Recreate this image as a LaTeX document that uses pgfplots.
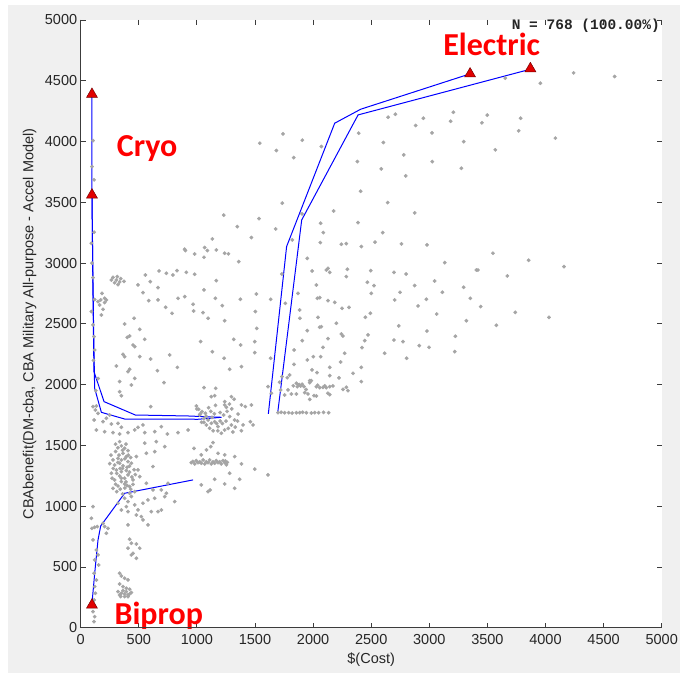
\documentclass[border=0pt]{standalone}
\usepackage{pgfplots}
\pgfplotsset{compat=1.18}
\usepackage{fontspec}
\setmainfont{Liberation Sans}
\newfontfamily\calib{Carlito}
\newfontfamily\monof{Liberation Mono}
\definecolor{ptgray}{RGB}{165,165,165}
\definecolor{bgray}{RGB}{240,240,240}
\definecolor{axgray}{RGB}{60,60,60}
\definecolor{trired}{RGB}{225,0,0}
\definecolor{triedge}{RGB}{120,0,0}
\begin{document}
\begin{tikzpicture}
\fill[white] (-80.7pt,-45.3pt) rectangle (599.3pt,627.7pt);
\fill[bgray] (-72.7pt,-45.3pt) rectangle (599.3pt,622.7pt);
\begin{axis}[
  scale only axis, width=581pt, height=607.7pt,
  xmin=0, xmax=5000, ymin=0, ymax=5000,
  xtick={0,500,...,5000}, ytick={0,500,...,5000},
  tick pos=both, tick align=inside, major tick length=5pt,
  axis line style={draw=none},
  axis background/.style={fill=white},
  tick style={color=axgray, line width=0.8pt},
  scaled ticks=false,
  /pgf/number format/1000 sep={},
  /pgf/number format/assume math mode=true,
  ticklabel style={font=\fontsize{14.5}{16}\selectfont, text=black!85},
  xticklabel style={yshift=-3pt},
  xlabel={\$(Cost)},
  ylabel={CBAbenefit(DM-cba, CBA Military All-purpose - Accel Model)},
  label style={font=\fontsize{14.5}{16}\selectfont, text=black!85},
  xlabel style={at={(axis description cs:0.5,-0.0532)}, anchor=center},
  ylabel style={at={(axis description cs:-0.0881,0.5)}, anchor=center},
  clip=false,
]
% scatter of all designs
\addplot[only marks, mark=*, mark size=1.7pt, color=ptgray] coordinates {
(106,4008) (97,3794) (115,3685) (1541,3986) (1684,3926) (1231,3394) (1535,3366) (1348,3300) (1678,3281) (1133,3199) (1469,3210) (115,3254) (1067,3128) (92,3163) (895,3114) (1167,3108)
(1741,4063) (1907,4011) (2071,3959) (1833,3868) (2392,4069) (2605,3992) (2381,3835) (2587,3775) (2780,3890) (2797,3717) (2645,4200) (2708,4225) (2883,4132) (2949,4192) (3023,4071) (3207,4241) (3184,4167) (3296,3999) (3026,3835) (3276,3780) (2409,3591) (2642,3498) (2874,3413) (1735,3493) (2177,3429) (1905,3405) (2065,3328) (2387,3333) (2088,3251) (2599,3251) (1821,3191) (2062,3169) (2243,3155) (2286,3160) (2415,3136) (2533,3172) (2760,3158) (2980,3150)
(3654,4522) (3956,4480) (4242,4565) (4595,4535) (3499,4217) (3453,4154) (3786,4192) (3769,4088) (4085,4028) (3568,3932)
(3548,3081) (3855,3023) (4159,2971) (3419,2943) (3671,2894) (3442,2642) (3740,2595) (4030,2554) (3577,2488)
(1950,3039) (3133,3004) (3405,2943) (1732,2910) (1991,2935) (2114,2943) (2143,2924) (2128,2957) (2295,2949) (2286,2889) (2496,2938) (2696,2924) (2800,2910) (3046,2853) (2467,2842) (2524,2815) (2028,2820) (2874,2815) (3296,2801) (1870,2751) (2501,2751) (2748,2760) (3112,2760) (2037,2710) (2057,2716) (2128,2691) (2186,2677) (2702,2697) (2975,2702) (3353,2710) (1761,2669) (2249,2628) (2309,2636) (2903,2647) (1884,2614) (2493,2587) (2450,2554) (3064,2581) (1887,2546) (2042,2554) (2200,2505) (3319,2526) (2737,2483) (2057,2472) (2071,2477) (1950,2444) (2980,2441) (2243,2417) (2257,2400) (2473,2409) (3224,2398) (2128,2378) (1907,2362) (2444,2362) (2696,2367) (2774,2354) (2085,2307) (2914,2321) (2998,2307) (2421,2304) (1836,2285) (2272,2258) (2616,2258) (3219,2271) (2002,2230) (2065,2230) (1950,2203) (2805,2217) (2237,2186) (1836,2167) (2143,2142) (2415,2142) (1991,2121) (2034,2099) (2344,2093) (2143,2074) (1798,2079) (1778,2057) (2223,2055) (2415,2025) (1971,2033) (1732,2066) (1712,2019) (1721,1956) (1856,2011) (1876,1997) (1893,1989) (1905,2003) (1864,1983) (1922,1983) (1971,2016) (1985,2033) (2028,1983) (2057,1975) (2085,1978) (2114,1975) (2143,1983) (2171,1989) (2257,1961) (2286,1978) (2300,1950) (1784,1956) (1813,1923) (1856,1923) (1928,1934) (1956,1923) (2008,1909) (2128,1929) (2143,1918) (1971,1879) (2028,1907) (1755,1915) (1698,1769) (1755,1769) (1790,1769) (1856,1769) (1885,1769) (1942,1769) (2014,1769) (2048,1769) (2134,1769)
(1725,1772) (1820,1766) (1910,1772) (1985,1766) (2090,1772) (1880,2000) (2040,1995) (2100,1990) (1940,1960) (1830,1990)
(901,3103) (981,3075) (1061,3048) (1090,3103) (1239,3081) (1360,3012) (1271,3076)
(556,2902) (674,2935) (737,2916) (794,2902) (829,2938) (909,2924) (981,2908)
(278,2883) (307,2861) (335,2845) (264,2861) (292,2839) (321,2823) (315,2889) (344,2872) (373,2850)
(493,2820) (599,2847) (665,2798) (536,2757) (1061,2779) (1167,2856) (1159,2710) (895,2724) (838,2710) (1512,2746) (1374,2702) (1635,2702) (585,2691) (665,2697) (967,2661) (731,2636) (972,2606) (1053,2592) (786,2587) (1503,2601) (1239,2526) (1096,2546) (1219,2650) (1515,2462)
(183,2751) (149,2683) (172,2697) (206,2675) (163,2655) (192,2620) (178,2573) (221,2697) (206,2710)
(378,2499) (459,2546) (508,2455) (421,2400) (401,2389) (551,2373) (450,2326) (465,2313) (1032,2354) (1133,2271) (766,2244) (508,2230) (364,2249) (378,2230) (602,2211) (832,2142) (660,2115) (421,2126) (407,2107) (307,2153) (465,2052) (335,2025) (717,2016) (436,1997) (335,1942) (350,1909)
(1377,2326) (1317,2373) (1498,2354) (1234,2217) (1282,2126) (1383,2148) (1498,2263) (1635,2217)
(1061,1975) (1162,1970) (1124,1901) (1153,1909) (1297,1901) (1239,1860) (1254,1813) (1239,1833) (1383,1833) (1417,1819) (1469,1833) (1354,1758) (1460,1695) (1483,1668) (1397,1668) (1383,1621) (1612,1983) (1641,1929) (602,1819)
(995,1824) (1015,1797) (1044,1778) (1073,1764) (1024,1750) (1061,1723) (1096,1709) (1124,1682) (1153,1695) (1082,1668) (1110,1641) (1182,1654) (1239,1627) (1297,1668) (1325,1709) (1282,1737)
(1040,1690) (1200,1700) (1260,1780) (1300,1800) (1150,1760) (1180,1620) (1210,1600) (1330,1650) (1350,1700) (1100,1810) (1280,1840) (1320,1880)
(1000,1800) (1030,1760) (1060,1690) (1130,1730) (1170,1680) (1220,1680) (1250,1700) (1270,1640) (1310,1610) (1140,1620) (1200,1770) (1230,1750) (1160,1830) (1080,1740) (1120,1780)
(106,1819) (135,1824) (126,1791) (149,1764) (115,1709) (192,1695) (221,1723) (249,1750) (264,1676) (321,1682) (350,1649) (135,1627) (206,1613) (278,1605) (335,1594) (407,1605) (465,1627) (551,1605) (637,1613) (746,1594) (838,1605) (924,1627) (694,1654) (536,1668) (493,1649)
(106,2491) (92,2601) (115,2395) (120,2285) (106,2880) (120,2700) (97,3000) (110,2200) (150,2050) (130,1950)
(335,1531) (350,1496) (378,1476) (407,1457) (364,1435) (393,1408) (278,1380) (321,1394) (292,1339) (335,1353) (364,1331) (407,1367) (436,1353) (307,1298) (350,1284) (393,1293) (264,1271) (335,1249) (378,1230) (407,1257) (292,1216) (350,1202) (321,1166) (378,1183) (421,1161) (278,1147) (450,1216) (479,1408) (493,1298) (508,1243)
(300,1450) (330,1420) (360,1460) (380,1390) (400,1320) (280,1310) (310,1270) (360,1310) (420,1280) (440,1240) (300,1180) (340,1140) (380,1150) (450,1180) (470,1260) (350,1230) (390,1200) (320,1360) (260,1420) (300,1510) (350,1380) (410,1420)
(320,1480) (390,1510) (430,1400) (270,1230) (340,1310) (400,1170) (430,1140) (310,1120) (360,1100) (460,1300) (250,1350) (420,1330)
(565,1435) (637,1449) (622,1326) (723,1490) (551,1518) (651,1531)
(378,1065) (407,1038) (436,1079) (393,996) (465,1010) (493,969) (536,1024) (579,1051) (637,1065) (723,1079) (809,1038) (321,1024) (350,969) (407,955) (522,914) (536,887) (579,846) (665,955) (694,969) (608,955) (479,928) (407,846) (751,1188) (737,1106) (565,1188) (622,1134) (694,1134) (421,1106) (465,1120)
(421,728) (436,695) (479,689) (508,654) (407,654) (450,612) (479,571) (436,599)
(106,996) (92,900) (120,826) (97,818) (143,832) (206,832) (235,818) (192,859) (221,777) (106,722) (135,640) (149,599) (120,558) (155,516) (115,448) (135,393) (120,338) (126,283) (115,228) (106,132) (120,91) (115,50)
(335,448) (350,426) (378,407) (407,393) (335,360) (364,338) (393,324) (421,316) (321,297) (350,283) (378,278) (407,270) (436,289) (344,256) (378,256) (407,256) (364,305) (393,297) (335,269) (421,278)
(952,1358) (981,1348) (1010,1358) (1038,1353) (1067,1348) (1096,1358) (1124,1348) (1153,1353) (1182,1358) (1210,1348) (1239,1358) (1254,1340) (995,1375) (1053,1380) (1110,1380) (1167,1375) (1225,1375) (1262,1360)
(965,1368) (1024,1365) (1081,1365) (1138,1365) (1196,1365) (1245,1372)
(975,1476) (1038,1422) (1082,1463) (1119,1490) (1139,1523) (1182,1435) (1239,1422) (1325,1408) (1383,1348) (1498,1304) (1612,1257) (1282,1271) (1153,1221) (1239,1183) (1325,1147) (1096,1120) (1038,1175) (1368,1221) (1113,1133)
};
% Pareto fronts
\addplot[blue, line width=1pt] coordinates {(97,4389) (97,3600) (105,2800) (114,2107) (201,1860) (470,1750) (924,1742) (1210,1731)};
\addplot[blue, line width=1pt] coordinates {(97,3561) (105,2900) (112,2400) (120,1970) (178,1772) (378,1717) (1010,1715) (1210,1731)};
\addplot[blue, line width=1pt] coordinates {(1615,1760) (1772,3136) (2186,4151) (2410,4266) (3351,4557)};
\addplot[blue, line width=1pt] coordinates {(1695,1765) (1902,3355) (2387,4219) (3870,4595)};
\addplot[blue, line width=1pt] coordinates {(97,201) (126,503) (149,722) (172,837) (378,1106) (967,1216)};
% extreme designs
\addplot[only marks, mark=triangle*, mark size=6.3pt, mark options={fill=trired, draw=triedge, line width=0.5pt}] coordinates {(97,187) (97,3561) (97,4389) (3351,4557) (3870,4600)};
% labels
\node[anchor=base, text=red, text height=19pt, text depth=6pt, inner sep=0pt, font=\calib\bfseries\fontsize{32}{36}\selectfont] at (axis cs:572,3878) {Cryo};
\node[anchor=base, text=red, text height=19pt, text depth=6pt, inner sep=0pt, font=\calib\bfseries\fontsize{32}{36}\selectfont] at (axis cs:3537,4706) {Electric};
\node[anchor=base, text=red, text height=19pt, text depth=6pt, inner sep=0pt, font=\calib\bfseries\fontsize{32}{36}\selectfont] at (axis cs:672,26) {Biprop};
\node[anchor=east, text=black!85, text height=9pt, text depth=0pt, font=\monof\bfseries\fontsize{14.5}{16}\selectfont, inner sep=0pt] at (axis cs:4985,4962) {N = 768 (100.00\%)};
\draw[axgray, line width=1pt] (rel axis cs:0,1) -- (rel axis cs:0,0) -- (rel axis cs:1,0);
\end{axis}
\pgfresetboundingbox
\useasboundingbox (-80.7pt,-45.3pt) rectangle (599.3pt,627.7pt);
\end{tikzpicture}
\end{document}
